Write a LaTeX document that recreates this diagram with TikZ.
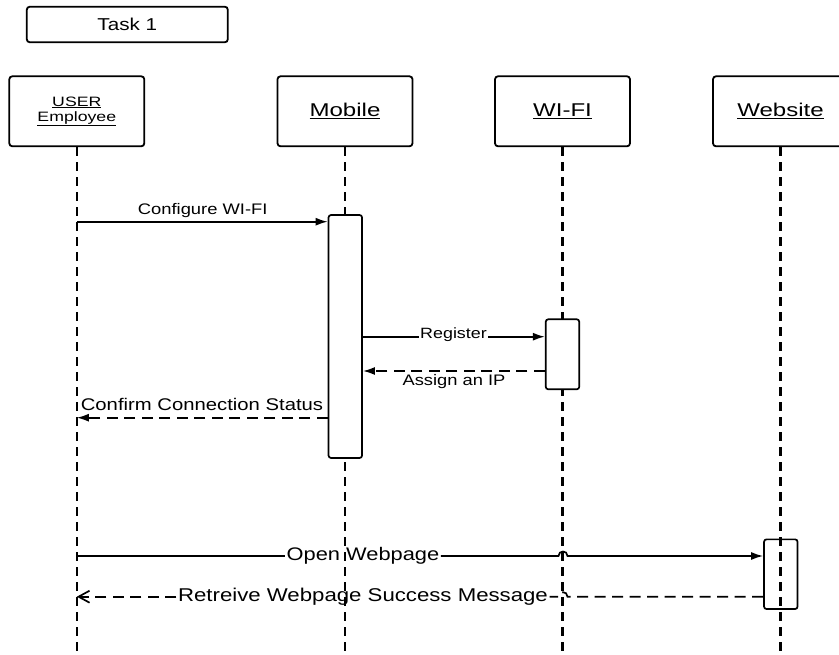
\documentclass[tikz,border=0pt]{standalone}
\usepackage{fontspec}
\setmainfont[FakeStretch=1.2]{Liberation Sans}
\newfontfamily\headfont[FakeStretch=1.3]{Liberation Sans}
\usetikzlibrary{arrows.meta,calc}
\newcommand{\fsz}[1]{\fontsize{#1}{#1}\selectfont}
\begin{document}
\begin{tikzpicture}[x=1pt,y=-1pt,
  taskbox/.style={draw, rounded corners=3pt, line width=1.8pt, minimum width=201pt, minimum height=35.6pt, inner sep=0pt, font=\fsz{17.2}},
  head/.style={draw, fill=white, rounded corners=3pt, line width=1.8pt, minimum width=135pt, minimum height=70pt, inner sep=0pt, font=\headfont\fsz{18.5}, align=center},
  actbox/.style={draw, rounded corners=2.5pt, line width=1.7pt, minimum width=33.5pt, inner sep=0pt},
  life/.style={line width=2.2pt, dash pattern=on 9pt off 6pt},
  msg/.style={line width=1.7pt, -{Latex[length=12pt,width=8pt]}},
  plain/.style={line width=1.7pt},
  dsh/.style={dash pattern=on 11pt off 6.5pt},
  lbl/.style={inner sep=1.5pt, anchor=base}]
\useasboundingbox (0,0) rectangle (839,655);
\clip (0,0) rectangle (839,655);

% title
\node[taskbox] (task) at (127.3,24.5) {Task 1};

% participants
\node[head, font=\headfont\fontsize{13.6}{15}\selectfont] (user) at (76.8,111.3) {\underline{USER}\\\underline{Employee}};
\node[head] (mobile) at (345,111.3) {\underline{Mobile}};
\node[head] (wifi) at (562.5,111.3) {\underline{WI-FI}};
\node[head] (web) at (780.5,111.3) {\underline{Website}};

% lifelines
\coordinate (userend) at (76.8,660);
\coordinate (mobend) at (345,660);
\coordinate (wifiend) at (562.5,660);
\coordinate (webend) at (780.5,660);
\draw[life] (user.south) -- (userend);
\draw[life] (mobile.south) -- (mobend);
\draw[life] (wifi.south) -- (wifiend);
\draw[life] (web.south) -- (webend);

% activation boxes
\node[actbox, fill=white, minimum height=243pt] (act1) at (345.3,336.5) {};
\node[actbox, fill=white, minimum height=70pt] (act2) at (562.5,354.3) {};
\node[actbox, minimum height=69.7pt] (act3) at (780.8,574.2) {};

% message anchors
\coordinate (y1) at (76.8,221.7);
\coordinate (y2) at (345,336.7);
\coordinate (y3) at (345,371);
\coordinate (y4) at (76.8,417.7);
\coordinate (y5) at (76.8,556);
\coordinate (y6) at (76.8,596.7);
\coordinate (h5a) at (558.5,556);
\coordinate (h5b) at (567.5,556);
\coordinate (h6a) at (567.5,596.7);
\coordinate (h6b) at (558.5,596.7);

% labels
\node[lbl, font=\fsz{15.3}] (lbl1) at (202.7,215) {Configure WI-FI};
\node[lbl, font=\fsz{14.9}] (lbl2) at (453.5,339) {Register};
\node[lbl, font=\fsz{15.25}] (lbl3) at (454,385) {Assign an IP};
\node[lbl, font=\fsz{16.9}] (lbl4) at (202,410.7) {Confirm Connection Status};
\node[lbl, font=\fsz{18.2}] (lbl5) at (363,560) {Open Webpage};
\node[lbl, font=\fsz{18.5}] (lbl6) at (363,601) {Retreive Webpage Success Message};

% messages
\draw[msg] (y1) -- (act1.west |- y1);
\draw[plain] (act1.east |- y2) -- (lbl2.west |- y2);
\draw[msg] (lbl2.east |- y2) -- (act2.west |- y2);
\draw[msg, dsh] (act2.west |- y3) -- (act1.east |- y3);
\draw[msg, dsh] (act1.west |- y4) -- (y4);

\draw[plain] (y5) -- (lbl5.west |- y5);
\draw[msg] (lbl5.east |- y5) -- (h5a) .. controls ($(h5a)+(0,-6)$) and ($(h5b)+(0,-6)$) .. (h5b) -- (act3.west |- y5);

\draw[plain, dsh] (act3.west |- y6) -- (h6a) .. controls ($(h6a)+(0,-6)$) and ($(h6b)+(0,-6)$) .. (h6b) -- (lbl6.east |- y6);
\draw[plain, dsh, -{Straight Barb[length=11pt,width=12pt]}] (lbl6.west |- y6) -- (y6);
\end{tikzpicture}
\end{document}
